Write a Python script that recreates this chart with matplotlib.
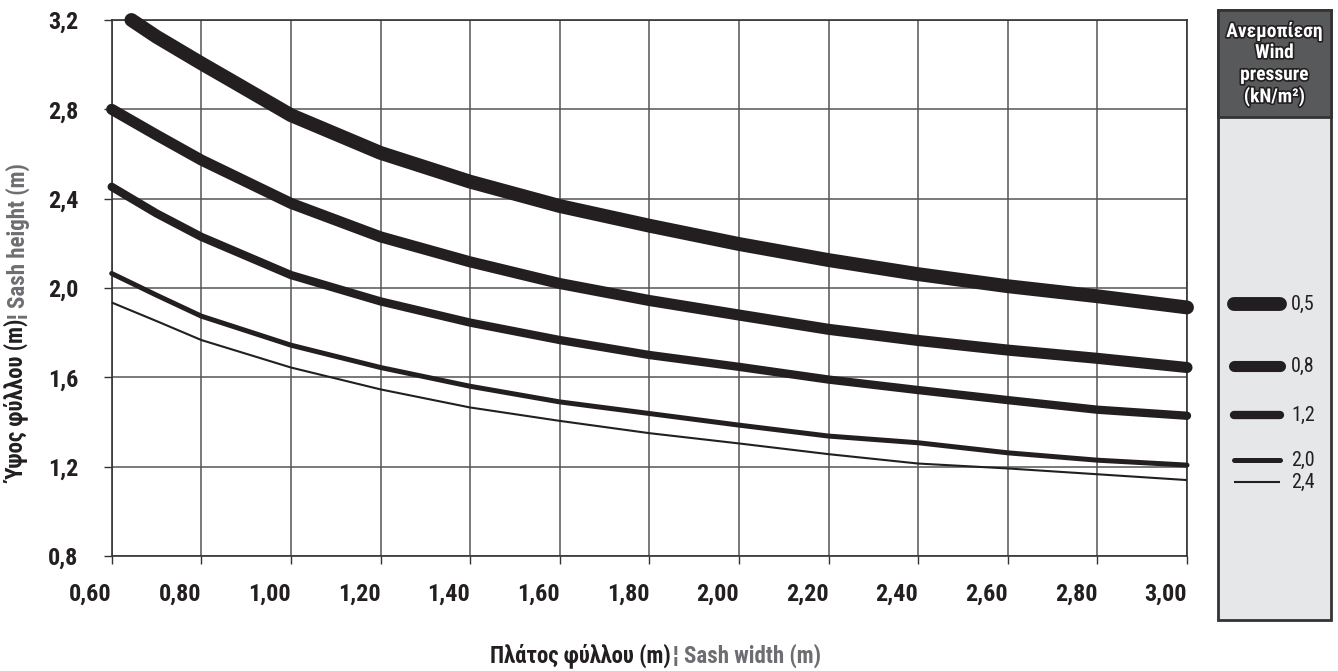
import matplotlib

matplotlib.use("Agg")
import matplotlib.pyplot as plt
import matplotlib.patheffects as pe
from matplotlib.patches import Rectangle

# wind pressure classes (kN/m2) and their curves: sash width -> max sash height
pressures = ["0,5", "0,8", "1,2", "2,0", "2,4"]

w_05 = [0.644, 0.70, 0.80, 0.871, 1.00, 1.20, 1.40, 1.60, 1.80, 2.00, 2.20, 2.40, 2.60, 2.80, 3.00]
h_05 = [3.20, 3.125, 3.006, 2.924, 2.774, 2.605, 2.476, 2.367, 2.279, 2.197, 2.125, 2.062, 2.008, 1.963, 1.913]

w_rest = [0.60, 0.70, 0.80, 1.00, 1.20, 1.40, 1.60, 1.80, 2.00, 2.20, 2.40, 2.60, 2.80, 3.00]
h_08 = [2.80, 2.685, 2.573, 2.379, 2.229, 2.117, 2.02, 1.944, 1.879, 1.815, 1.765, 1.722, 1.685, 1.644]
h_12 = [2.453, 2.334, 2.229, 2.058, 1.94, 1.845, 1.767, 1.70, 1.647, 1.59, 1.543, 1.498, 1.455, 1.428]
h_20 = [2.065, 1.968, 1.874, 1.744, 1.644, 1.56, 1.49, 1.438, 1.386, 1.337, 1.307, 1.262, 1.229, 1.207]
h_24 = [1.935, 1.852, 1.767, 1.644, 1.546, 1.465, 1.405, 1.35, 1.304, 1.256, 1.214, 1.192, 1.166, 1.14]

x_ticks = [0.6, 0.8, 1.0, 1.2, 1.4, 1.6, 1.8, 2.0, 2.2, 2.4, 2.6, 2.8, 3.0]
y_ticks = [0.8, 1.2, 1.6, 2.0, 2.4, 2.8, 3.2]

series = [(w_05, h_05), (w_rest, h_08), (w_rest, h_12), (w_rest, h_20), (w_rest, h_24)]
widths = [10, 8, 6, 3.6, 1.5]
ink = "#231f20"
grey_txt = "#6d6e71"

plt.rcParams["font.family"] = ["Roboto Condensed", "Liberation Sans Narrow", "Roboto", "DejaVu Sans"]
plt.rcParams["font.stretch"] = "condensed"

fig = plt.figure(figsize=(13.38, 6.71), dpi=100)
ax = fig.add_axes([111.7 / 1338, 1 - 556 / 671, (1187 - 111.7) / 1338, (556 - 20) / 671])

for (xs, ys), lw in zip(series, widths):
    cap = "round" if lw > 2 else "butt"
    ax.plot(xs, ys, color=ink, lw=lw, solid_capstyle=cap, solid_joinstyle="round",
            zorder=3, clip_on=False)

ax.set_xlim(0.6, 3.0)
ax.set_ylim(0.8, 3.2)
ax.set_xticks(x_ticks)
ax.set_yticks(y_ticks)
ax.set_xticklabels([f"{v:.2f}".replace(".", ",") for v in x_ticks], ha="right")
ax.set_yticklabels([f"{v:.1f}".replace(".", ",") for v in y_ticks])
ax.tick_params(axis="both", length=6, width=1, color="#333333", labelsize=17.5,
               labelcolor=ink)
ax.tick_params(axis="y", pad=18)
ax.tick_params(axis="x", pad=13)
for lab in ax.get_xticklabels() + ax.get_yticklabels():
    lab.set_fontweight("bold")
ax.grid(True, color="#555555", lw=1.1)
for s in ax.spines.values():
    s.set_color("#333333")
    s.set_linewidth(1.2)

# axis titles, two colours each
fig.text(671 / 1338, 1 - 656 / 671, "Πλάτος φύλλου (m)", ha="right", va="center",
         fontsize=16.5, fontweight="bold", color=ink)
fig.text(673 / 1338, 1 - 656 / 671, "¦ Sash width (m)", ha="left", va="center",
         fontsize=16.5, fontweight="bold", color=grey_txt)
fig.text(18 / 1338, 1 - 321 / 671, "Ύψος φύλλου (m)", ha="right", va="center",
         rotation=90, rotation_mode="anchor", fontsize=16.5, fontweight="bold", color=ink)
fig.text(18 / 1338, 1 - 319 / 671, "¦ Sash height (m)", ha="left", va="center",
         rotation=90, rotation_mode="anchor", fontsize=16.5, fontweight="bold", color=grey_txt)

# legend panel
px0, px1, py0, py1 = 1218, 1331, 10, 620
lg = fig.add_axes([px0 / 1338, 1 - py1 / 671, (px1 - px0) / 1338, (py1 - py0) / 671])
lg.set_xlim(px0, px1)
lg.set_ylim(py1, py0)
lg.axis("off")
lg.add_patch(Rectangle((px0, py0), px1 - px0, py1 - py0, facecolor="#e6e7e8",
                       edgecolor="#333333", lw=2, clip_on=False))
lg.add_patch(Rectangle((px0, py0), px1 - px0, 117 - py0, facecolor="#58595b",
                       edgecolor="#333333", lw=2, clip_on=False))
stroke = [pe.withStroke(linewidth=2.4, foreground="#231f20")]
for txt, yy in zip(["Ανεμοπίεση", "Wind", "pressure", "(kN/m²)"], [32, 53, 75, 97]):
    lg.text((px0 + px1) / 2, yy, txt, ha="center", va="center", fontsize=14,
            fontweight="bold", color="white", path_effects=stroke)

leg_y = [304, 366, 415, 460, 482]
for lab, yy, lw in zip(pressures, leg_y, widths):
    cap = "round" if lw > 2 else "butt"
    lg.plot([1234, 1280], [yy, yy], color=ink, lw=lw, solid_capstyle=cap)
    lg.text(1291, yy, lab, ha="left", va="center", fontsize=14.5, color=ink)

fig.savefig("out.png", dpi=100)
